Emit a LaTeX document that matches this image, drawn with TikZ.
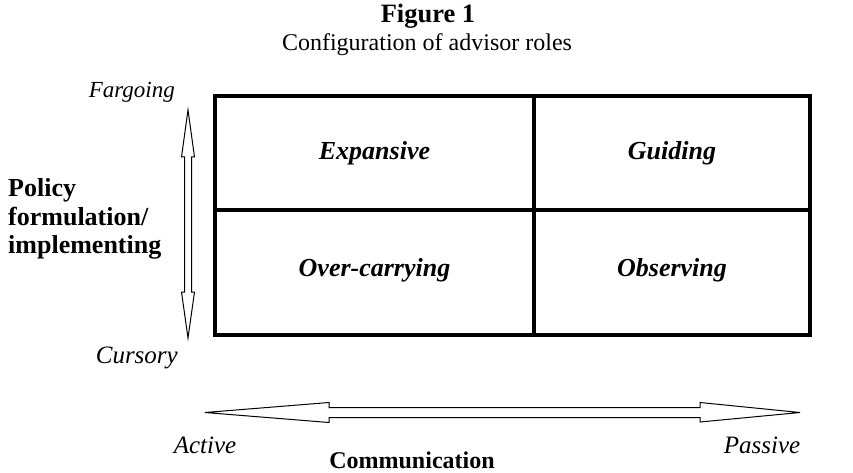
\documentclass[tikz,border=0pt]{standalone}
\usepackage{fontspec}
\setmainfont{Liberation Serif}
\begin{document}
\begin{tikzpicture}[x=1pt,y=-1pt,
  lbl/.style={font=\fontsize{24}{29}\selectfont, inner sep=0pt},
  cell/.style={font=\fontsize{26}{29}\selectfont\bfseries\itshape, inner sep=0pt},
  side/.style={font=\fontsize{25}{29}\selectfont\itshape, inner sep=0pt},
  frame/.style={line width=3.2pt},
  hollow/.style={line width=1pt, line join=miter}]
\useasboundingbox (0,0) rectangle (853,473);
% title
\node[lbl, font=\fontsize{26.5}{29}\selectfont\bfseries] (fig) at (428,16) {Figure 1};
\node[lbl] (cap) at (427,45) {Configuration of advisor roles};
% grid
\draw[frame] (215,96) rectangle (810,335);
\draw[frame] (534,96) -- (534,335);
\draw[frame] (215,210) -- (810,210);
\node[cell] (exp) at (374.5,153) {Expansive};
\node[cell] (gui) at (672,153) {Guiding};
\node[cell] (ove) at (374.5,270) {Over-carrying};
\node[cell] (obs) at (672,270) {Observing};
% vertical axis
\node[side, font=\fontsize{23}{29}\selectfont\itshape, anchor=east] (far) at (175,92) {Fargoing};
\node[side, anchor=east] (cur) at (178,358) {Cursory};
\node[lbl, font=\fontsize{26}{28.5}\selectfont\bfseries, align=left, anchor=west] (pol) at (8,219) {Policy\\formulation/\\implementing};
\draw[hollow] (188,110) -- (194.5,157) -- (191.5,157) -- (191.5,292) -- (194.5,292) -- (188,338)
  -- (181.5,292) -- (184.5,292) -- (184.5,157) -- (181.5,157) -- cycle;
% horizontal axis
\draw[hollow] (205,412.5) -- (329,402.5) -- (329,407.5) -- (700,407.5) -- (700,402.5) -- (800,412.5)
  -- (700,422) -- (700,417.5) -- (329,417.5) -- (329,422.5) -- cycle;
\node[side] (act) at (205,445) {Active};
\node[side] (pas) at (762,445) {Passive};
\node[lbl, font=\fontsize{24}{29}\selectfont\bfseries] (com) at (412,460) {Communication};
\end{tikzpicture}
\end{document}
